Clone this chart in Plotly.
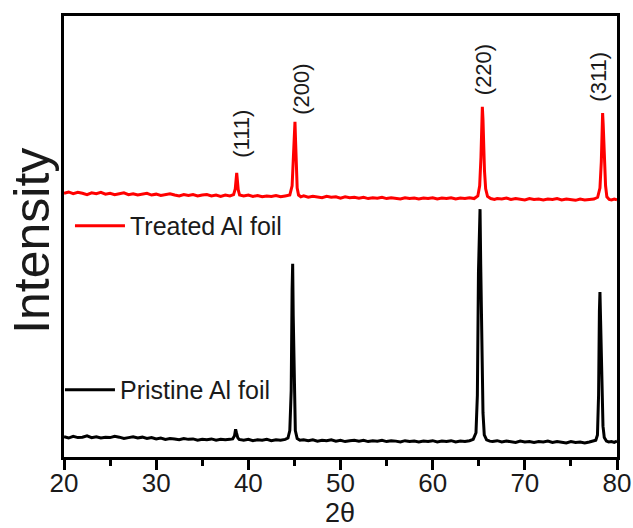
import plotly.graph_objects as go

# ---------------- data ----------------
pristine_x = [20.0, 20.5, 21.0, 21.5, 22.0, 22.5, 23.0, 23.5, 24.0, 24.5, 25.0, 25.5, 26.0, 26.5,
              27.0, 27.5, 28.0, 28.5, 29.0, 29.5, 30.0, 30.5, 31.0, 31.5, 32.0, 32.5, 33.0, 33.5,
              34.0, 34.5, 35.0, 35.5, 36.0, 36.5, 37.0, 37.5, 38.0, 38.3, 38.5, 38.62, 38.72, 38.85,
              39.0, 39.5, 40.0, 40.5, 41.0, 41.5, 42.0, 42.5, 43.0, 43.5, 44.0, 44.3, 44.5, 44.65,
              44.75, 44.81, 44.87, 44.93, 45.0, 45.1, 45.3, 45.6, 46.0, 46.5, 47.0, 47.5, 48.0, 48.5,
              49.0, 49.5, 50.0, 50.5, 51.0, 51.5, 52.0, 52.5, 53.0, 53.5, 54.0, 54.5, 55.0, 55.5,
              56.0, 56.5, 57.0, 57.5, 58.0, 58.5, 59.0, 59.5, 60.0, 60.5, 61.0, 61.5, 62.0, 62.5,
              63.0, 63.5, 64.0, 64.4, 64.7, 64.85, 64.97, 65.06, 65.14, 65.21, 65.28, 65.36, 65.46,
              65.6, 65.85, 66.2, 66.5, 67.0, 67.5, 68.0, 68.5, 69.0, 69.5, 70.0, 70.5, 71.0, 71.5,
              72.0, 72.5, 73.0, 73.5, 74.0, 74.5, 75.0, 75.5, 76.0, 76.5, 77.0, 77.4, 77.7, 77.88,
              78.0, 78.09, 78.15, 78.22, 78.3, 78.38, 78.48, 78.62, 78.85, 79.1, 79.4, 79.7, 80.0]
pristine_y = [4.6, 4.3, 4.7, 4.4, 4.5, 4.8, 4.4, 4.6, 4.3, 4.5, 4.4, 4.7, 4.5, 4.2,
              4.4, 4.6, 4.3, 4.5, 4.2, 4.4, 4.1, 4.3, 4.0, 4.2, 4.1, 3.9, 4.2, 4.0,
              4.1, 3.8, 4.0, 3.9, 4.1, 3.8, 4.0, 3.9, 4.0, 4.1, 4.8, 6.3, 5.4, 4.4,
              4.0, 3.8, 4.0, 3.7, 3.9, 3.8, 4.0, 3.7, 3.9, 3.8, 4.0, 4.3, 6.0, 15.0,
              38.0, 43.8, 32.0, 26.0, 14.0, 6.0, 4.2, 3.8, 3.9, 3.7, 3.9, 3.6, 3.8, 3.7,
              3.9, 3.6, 3.8, 3.5, 3.7, 3.8, 3.6, 3.8, 3.5, 3.7, 3.6, 3.8, 3.5, 3.7,
              3.6, 3.4, 3.7, 3.5, 3.6, 3.4, 3.6, 3.5, 3.7, 3.4, 3.6, 3.5, 3.7, 3.4,
              3.6, 3.5, 3.7, 4.0, 5.5, 14.0, 42.0, 52.0, 56.2, 44.0, 32.0, 22.0, 10.0,
              5.0, 3.9, 3.6, 3.5, 3.7, 3.4, 3.6, 3.5, 3.3, 3.6, 3.4, 3.5, 3.3, 3.5,
              3.4, 3.6, 3.3, 3.5, 3.4, 3.2, 3.5, 3.3, 3.4, 3.2, 3.4, 3.6, 3.8, 5.0,
              14.0, 33.0, 37.4, 31.0, 24.0, 15.0, 7.0, 4.4, 3.6, 3.4, 3.5, 3.3, 3.6]

treated_x = [20.0, 20.5, 21.0, 21.5, 22.0, 22.5, 23.0, 23.5, 24.0, 24.5, 25.0, 25.5, 26.0, 26.5,
             27.0, 27.5, 28.0, 28.5, 29.0, 29.5, 30.0, 30.5, 31.0, 31.5, 32.0, 32.5, 33.0, 33.5,
             34.0, 34.5, 35.0, 35.5, 36.0, 36.5, 37.0, 37.5, 38.0, 38.4, 38.58, 38.68, 38.74, 38.8,
             38.9, 39.05, 39.5, 40.0, 40.5, 41.0, 41.5, 42.0, 42.5, 43.0, 43.5, 44.0, 44.5, 44.75,
             44.9, 45.0, 45.06, 45.12, 45.2, 45.3, 45.45, 45.7, 46.0, 46.5, 47.0, 47.5, 48.0, 48.5,
             49.0, 49.5, 50.0, 50.5, 51.0, 51.5, 52.0, 52.5, 53.0, 53.5, 54.0, 54.5, 55.0, 55.5,
             56.0, 56.5, 57.0, 57.5, 58.0, 58.5, 59.0, 59.5, 60.0, 60.5, 61.0, 61.5, 62.0, 62.5,
             63.0, 63.5, 64.0, 64.5, 64.9, 65.1, 65.24, 65.32, 65.39, 65.46, 65.53, 65.62, 65.75,
             65.95, 66.3, 66.7, 67.0, 67.5, 68.0, 68.5, 69.0, 69.5, 70.0, 70.5, 71.0, 71.5,
             72.0, 72.5, 73.0, 73.5, 74.0, 74.5, 75.0, 75.5, 76.0, 76.5, 77.0, 77.5, 77.9, 78.15,
             78.3, 78.38, 78.44, 78.5, 78.58, 78.66, 78.76, 78.9, 79.15, 79.4, 79.7, 80.0]
treated_y = [59.8, 60.1, 59.7, 60.0, 59.8, 59.5, 59.9, 59.7, 60.0, 59.6, 59.8, 59.5, 59.7, 59.9,
             59.5, 59.7, 59.4, 59.6, 59.8, 59.4, 59.6, 59.3, 59.5, 59.7, 59.4, 59.2, 59.5, 59.3,
             59.5, 59.2, 59.4, 59.5, 59.2, 59.4, 59.1, 59.4, 59.2, 59.5, 60.8, 63.6, 64.4, 63.0,
             60.6, 59.4, 59.2, 59.4, 59.1, 59.3, 59.0, 59.2, 59.1, 59.3, 59.0, 59.2, 59.4, 61.5,
             68.0, 74.5, 76.0, 72.0, 66.0, 61.0, 59.4, 59.0, 59.2, 58.9, 59.1, 59.0, 58.8, 59.1,
             58.9, 59.0, 58.7, 59.0, 58.8, 58.9, 58.7, 58.9, 58.6, 58.8, 58.7, 58.9, 58.6, 58.8,
             58.7, 58.5, 58.8, 58.6, 58.7, 58.5, 58.7, 58.6, 58.8, 58.5, 58.7, 58.6, 58.8, 58.5,
             58.7, 58.6, 58.8, 58.6, 59.2, 61.5, 68.0, 76.0, 79.4, 76.5, 70.0, 65.0, 60.8,
             59.1, 58.6, 58.4, 58.6, 58.5, 58.7, 58.4, 58.6, 58.5, 58.3, 58.6, 58.4, 58.5,
             58.3, 58.5, 58.4, 58.6, 58.3, 58.5, 58.4, 58.2, 58.5, 58.3, 58.4, 58.5, 58.9, 61.0,
             67.0, 74.5, 78.0, 75.5, 70.0, 66.5, 61.5, 59.0, 58.4, 58.3, 58.5, 58.3]

peak_labels = ["(111)", "(200)", "(220)", "(311)"]
peak_pos = [38.74, 45.06, 65.39, 78.44]
peak_top = [64.4, 76.0, 79.4, 78.0]

x_ticks = [20, 30, 40, 50, 60, 70, 80]

FONT = "Arial, 'Liberation Sans', sans-serif"

fig = go.Figure()
fig.add_trace(go.Scatter(x=pristine_x, y=pristine_y, mode="lines",
                         line=dict(color="black", width=3),
                         name="Pristine Al foil", legend="legend2"))
fig.add_trace(go.Scatter(x=treated_x, y=treated_y, mode="lines",
                         line=dict(color="#ff0000", width=3),
                         name="Treated Al foil", legend="legend"))

label_shift_x = [4, 7, 2, -5]
label_shift_y = [39, 33, 37, 36]
for lab, px, py, sx, sy in zip(peak_labels, peak_pos, peak_top, label_shift_x, label_shift_y):
    fig.add_annotation(x=px, y=py, text=lab, showarrow=False, textangle=-90,
                       xanchor="center", yanchor="middle", xshift=sx, yshift=sy,
                       font=dict(family=FONT, size=22, color="#1a1a1a"))

fig.add_annotation(xref="paper", yref="paper", x=-0.058, y=0.49, text="Intensity",
                   showarrow=False, textangle=-90, xanchor="center", yanchor="middle",
                   font=dict(family=FONT, size=50, color="#1a1a1a"))
fig.add_annotation(xref="paper", yref="paper", x=0.499, y=-0.127, text="2θ",
                   showarrow=False, xanchor="center", yanchor="middle",
                   font=dict(family=FONT, size=27, color="#1a1a1a"))

fig.update_layout(
    width=633, height=528,
    margin=dict(l=64, r=16, t=16, b=71, autoexpand=False),
    paper_bgcolor="white", plot_bgcolor="white",
    font=dict(family=FONT, color="#1a1a1a"),
    showlegend=True,
    legend=dict(x=0.0108, y=0.524, xanchor="left", yanchor="middle", visible=True,
                bgcolor="rgba(0,0,0,0)", font=dict(family=FONT, size=25, color="#1a1a1a"),
                itemwidth=50),
    legend2=dict(x=-0.0073, y=0.152, xanchor="left", yanchor="middle", visible=True,
                 bgcolor="rgba(0,0,0,0)", font=dict(family=FONT, size=25, color="#1a1a1a"),
                 itemwidth=50),
    xaxis=dict(range=[20, 80], tickmode="array", tickvals=x_ticks, automargin=False,
               ticks="outside", ticklen=10, tickwidth=2.5, tickcolor="black",
               ticklabelstandoff=-9,
               minor=dict(dtick=5, ticks="outside", ticklen=6, tickwidth=2.5, tickcolor="black", showgrid=False),
               showline=True, linecolor="black", linewidth=2.5, mirror=True,
               showgrid=False, zeroline=False,
               tickfont=dict(family=FONT, size=26, color="#1a1a1a")),
    yaxis=dict(range=[0, 100], showticklabels=False, ticks="", automargin=False,
               showline=True, linecolor="black", linewidth=2.5, mirror=True,
               showgrid=False, zeroline=False),
)

fig.write_html("out.html")
